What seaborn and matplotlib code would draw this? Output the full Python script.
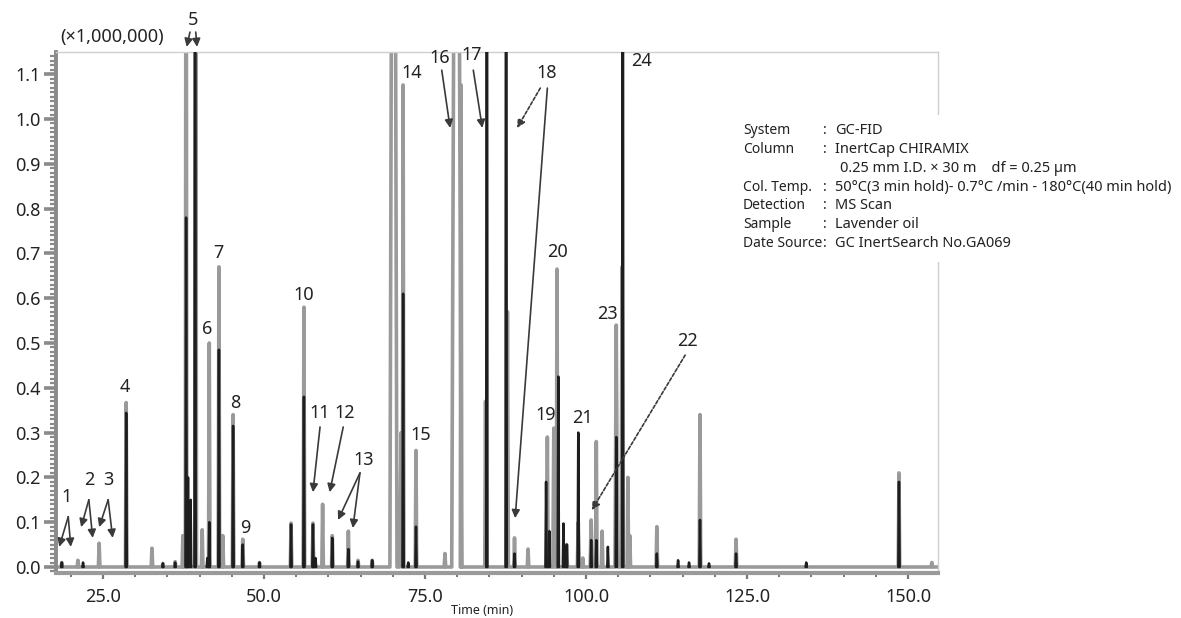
import numpy as np
import pandas as pd
import matplotlib
matplotlib.use("Agg")
import matplotlib.pyplot as plt
from matplotlib.ticker import MultipleLocator, FormatStrFormatter
from matplotlib.patches import Rectangle
import seaborn as sns

# ---------------- data ----------------
# grey trace: retention time (min), height (x1,000,000), half width (min)
grey_t = [18.6, 21.1, 24.4, 28.6, 32.6, 34.3, 36.2, 37.4, 37.9, 39.4, 40.4, 41.5,
          43.0, 43.6, 45.2, 46.7, 49.3, 54.2, 56.2, 57.6, 59.1, 60.6, 63.1, 64.6,
          66.8, 70.1, 71.3, 71.6, 73.6, 78.1, 79.9, 80.6, 84.4, 87.8, 88.9, 91.0,
          94.0, 95.0, 95.5, 97.0, 98.8, 99.5, 100.8, 101.6, 102.5, 104.7, 105.6,
          106.5, 106.8, 111.0, 117.7, 123.3, 148.6, 153.7]
grey_h = [0.01, 0.015, 0.053, 0.367, 0.042, 0.008, 0.012, 0.07, 2.0, 1.6, 0.083, 0.50,
          0.67, 0.07, 0.34, 0.062, 0.01, 0.098, 0.58, 0.098, 0.14, 0.07, 0.08, 0.015,
          0.015, 3.0, 0.30, 1.076, 0.26, 0.03, 3.0, 1.076, 0.37, 0.57, 0.065, 0.04,
          0.29, 0.31, 0.665, 0.05, 0.10, 0.02, 0.105, 0.28, 0.08, 0.54, 0.67,
          0.20, 0.07, 0.09, 0.34, 0.062, 0.21, 0.01]
grey_w = [0.12, 0.12, 0.12, 0.12, 0.12, 0.12, 0.12, 0.12, 0.12, 0.12, 0.12, 0.12,
          0.12, 0.12, 0.12, 0.12, 0.12, 0.12, 0.12, 0.12, 0.12, 0.12, 0.12, 0.12,
          0.12, 0.55, 0.25, 0.12, 0.12, 0.12, 0.75, 0.12, 0.12, 0.15, 0.12, 0.12,
          0.12, 0.15, 0.12, 0.12, 0.15, 0.12, 0.15, 0.12, 0.12, 0.2, 0.15,
          0.12, 0.12, 0.12, 0.12, 0.12, 0.12, 0.12]

# black trace
black_t = [18.6, 21.9, 28.6, 34.3, 36.2, 37.9, 38.2, 38.6, 39.3, 41.2, 41.5, 43.0,
           45.2, 46.7, 49.3, 54.2, 56.2, 57.6, 58.0, 60.6, 63.1, 64.6, 66.8, 71.6,
           72.4, 73.6, 84.6, 87.6, 88.9, 93.8, 94.3, 95.7, 96.5, 97.0, 98.8, 100.8,
           101.6, 103.4, 104.7, 105.7, 111.0, 114.3, 116.0, 117.7, 119.1, 123.3,
           134.2, 148.6]
black_h = [0.01, 0.01, 0.344, 0.008, 0.01, 0.78, 0.20, 0.15, 2.5, 0.02, 0.10, 0.485,
           0.315, 0.05, 0.01, 0.095, 0.38, 0.095, 0.02, 0.065, 0.04, 0.012, 0.015, 0.61,
           0.01, 0.09, 2.5, 2.5, 0.03, 0.19, 0.08, 0.425, 0.097, 0.05, 0.30, 0.06,
           0.06, 0.045, 0.29, 2.5, 0.03, 0.015, 0.01, 0.105, 0.008, 0.03,
           0.01, 0.19]

# peak numbers: label, label position (time, height)
peak_labels = ["1", "2", "3", "4", "5", "6", "7", "8", "9", "10", "11", "12",
               "13", "14", "15", "16", "17", "18", "19", "20", "21", "22", "23", "24"]
label_t = [19.4, 22.8, 25.8, 28.4, 39.0, 41.1, 42.9, 45.5, 47.1, 56.2, 58.7, 62.6,
           65.5, 72.9, 74.4, 77.3, 82.3, 93.9, 93.8, 95.5, 99.4, 115.8, 103.3, 108.6]
label_y = [0.156, 0.194, 0.194, 0.402, 1.221, 0.531, 0.700, 0.366, 0.087, 0.607, 0.344, 0.344,
           0.239, 1.103, 0.295, 1.136, 1.143, 1.103, 0.339, 0.703, 0.333, 0.504, 0.565, 1.129]

# arrows: (start time, start height, end time, end height, dashed)
arrow_t0 = [19.6, 19.6, 22.8, 22.8, 25.8, 25.8, 38.5, 39.4, 58.7, 62.3, 64.9, 64.9,
            77.6, 82.5, 92.9, 94.0, 115.4]
arrow_y0 = [0.112, 0.112, 0.150, 0.150, 0.150, 0.150, 1.194, 1.194, 0.3125, 0.3125, 0.21, 0.21,
            1.109, 1.109, 1.069, 1.069, 0.473]
arrow_t1 = [18.2, 20.0, 21.6, 23.4, 24.4, 26.5, 38.0, 39.6, 57.6, 60.2, 61.5, 63.8,
            78.9, 83.9, 89.3, 89.0, 100.9]
arrow_y1 = [0.045, 0.045, 0.089, 0.065, 0.089, 0.065, 1.161, 1.161, 0.167, 0.167, 0.105, 0.087,
            0.98, 0.98, 0.98, 0.109, 0.127]
arrow_dashed = [False, False, False, False, False, False, False, False, False, False, False, False,
                False, False, True, False, True]

x_ticks = [25.0, 50.0, 75.0, 100.0, 125.0, 150.0]
y_ticks = [0.0, 0.1, 0.2, 0.3, 0.4, 0.5, 0.6, 0.7, 0.8, 0.9, 1.0, 1.1]
x_range = (17.7, 154.66)
y_range = (-0.0134, 1.1496)

info_keys = ["System", "Column", "", "Col. Temp.", "Detection", "Sample", "Date Source"]
info_vals = ["GC-FID", "InertCap CHIRAMIX", "0.25 mm I.D. \u00d7 30 m    df = 0.25 \u00b5m",
             "50\u00b0C(3 min hold)- 0.7\u00b0C /min - 180\u00b0C(40 min hold)",
             "MS Scan", "Lavender oil", "GC InertSearch No.GA069"]

# ---------------- build traces ----------------
BLACK_W = 0.10
rows = [(x_range[0], 0.0)]
for t, h, w in sorted(zip(grey_t, grey_h, grey_w)):
    rows += [(t - w, 0.0), (t, h), (t + w, 0.0)]
rows.append((x_range[1], 0.0))
grey_df = pd.DataFrame(rows, columns=["t", "y"])

brows = []
for i, (t, h) in enumerate(zip(black_t, black_h)):
    brows += [(i, t - BLACK_W, 0.0), (i, t, h), (i, t + BLACK_W, 0.0)]
black_df = pd.DataFrame(brows, columns=["peak", "t", "y"])

# ---------------- plot ----------------
sns.set_theme(style="white")
plt.rcParams["font.family"] = ["Noto Sans", "DejaVu Sans"]

fig = plt.figure(figsize=(11.81, 6.18), dpi=100)
W, H = 1181, 618
ax = fig.add_axes([56 / W, 1 - 573 / H, (938 - 56) / W, (573 - 52) / H])

sns.lineplot(data=grey_df, x="t", y="y", sort=False, estimator=None,
             color="#9a9a9a", lw=2.6, ax=ax, zorder=2)
sns.lineplot(data=black_df, x="t", y="y", units="peak", sort=False, estimator=None,
             color="#1e1e1e", lw=1.8, ax=ax, zorder=3)

ax.set_xlim(*x_range)
ax.set_ylim(*y_range)
ax.set_xlabel("")
ax.set_ylabel("")

ax.set_xticks(x_ticks)
ax.set_yticks(y_ticks)
ax.xaxis.set_major_formatter(FormatStrFormatter("%.1f"))
ax.yaxis.set_major_formatter(FormatStrFormatter("%.1f"))
ax.xaxis.set_minor_locator(MultipleLocator(5))
ax.yaxis.set_minor_locator(MultipleLocator(0.01))
ax.tick_params(axis="y", which="major", direction="out", length=9, width=2.6,
               color="#8a8a8a", labelsize=13, pad=2, labelcolor="#222222", left=True)
ax.tick_params(axis="y", which="minor", direction="out", length=4, width=1.6,
               color="#8a8a8a", left=True)
ax.tick_params(axis="x", which="major", direction="out", length=4, width=1.6,
               color="#777777", labelsize=13, pad=7, labelcolor="#222222", bottom=True)
ax.tick_params(axis="x", which="minor", direction="out", length=3, width=1.4,
               color="#777777", bottom=True)

for side in ["top", "right"]:
    ax.spines[side].set_color("#cfcfcf")
    ax.spines[side].set_linewidth(1.0)
ax.spines["left"].set_color("#8a8a8a")
ax.spines["left"].set_linewidth(2.8)
ax.spines["bottom"].set_color("#9a9a9a")
ax.spines["bottom"].set_linewidth(3.0)

# peak labels
for lab, lt, ly in zip(peak_labels, label_t, label_y):
    ax.text(lt, ly, lab, ha="center", va="center", fontsize=13, color="#222222",
            clip_on=False, zorder=6)

# arrows
for t0, y0, t1, y1, d in zip(arrow_t0, arrow_y0, arrow_t1, arrow_y1, arrow_dashed):
    ax.annotate("", xy=(t1, y1), xytext=(t0, y0), annotation_clip=False,
                arrowprops=dict(arrowstyle="-|>", color="#3a3a3a", lw=1.2,
                                ls=(0, (2, 1.2)) if d else "-",
                                mutation_scale=12, shrinkA=0, shrinkB=0),
                zorder=6)

fig.text(112 / W, 1 - 37 / H, "(\u00d71,000,000)", ha="center", va="center",
         fontsize=13, color="#222222")
fig.text(482 / W, 1 - 611 / H, "Time (min)", ha="center", va="center",
         fontsize=9, color="#222222")

# info block
fig.add_artist(Rectangle((728 / W, 1 - 262 / H), (W - 728) / W, 147 / H,
                         transform=fig.transFigure, facecolor="white",
                         edgecolor="none", zorder=5))
y0 = 131
for i, (k, v) in enumerate(zip(info_keys, info_vals)):
    yy = 1 - (y0 + i * 18.7) / H
    if k:
        fig.text(743 / W, yy, k, ha="left", va="center", fontsize=10,
                 color="#222222", zorder=6)
        fig.text(823 / W, yy, ":", ha="left", va="center", fontsize=10.5,
                 color="#222222", zorder=6)
        fig.text(835 / W, yy, v, ha="left", va="center", fontsize=10.5,
                 color="#222222", zorder=6)
    else:
        fig.text(840 / W, yy, v, ha="left", va="center", fontsize=10.5,
                 color="#222222", zorder=6)

fig.savefig("out.png", dpi=100, facecolor="white")
